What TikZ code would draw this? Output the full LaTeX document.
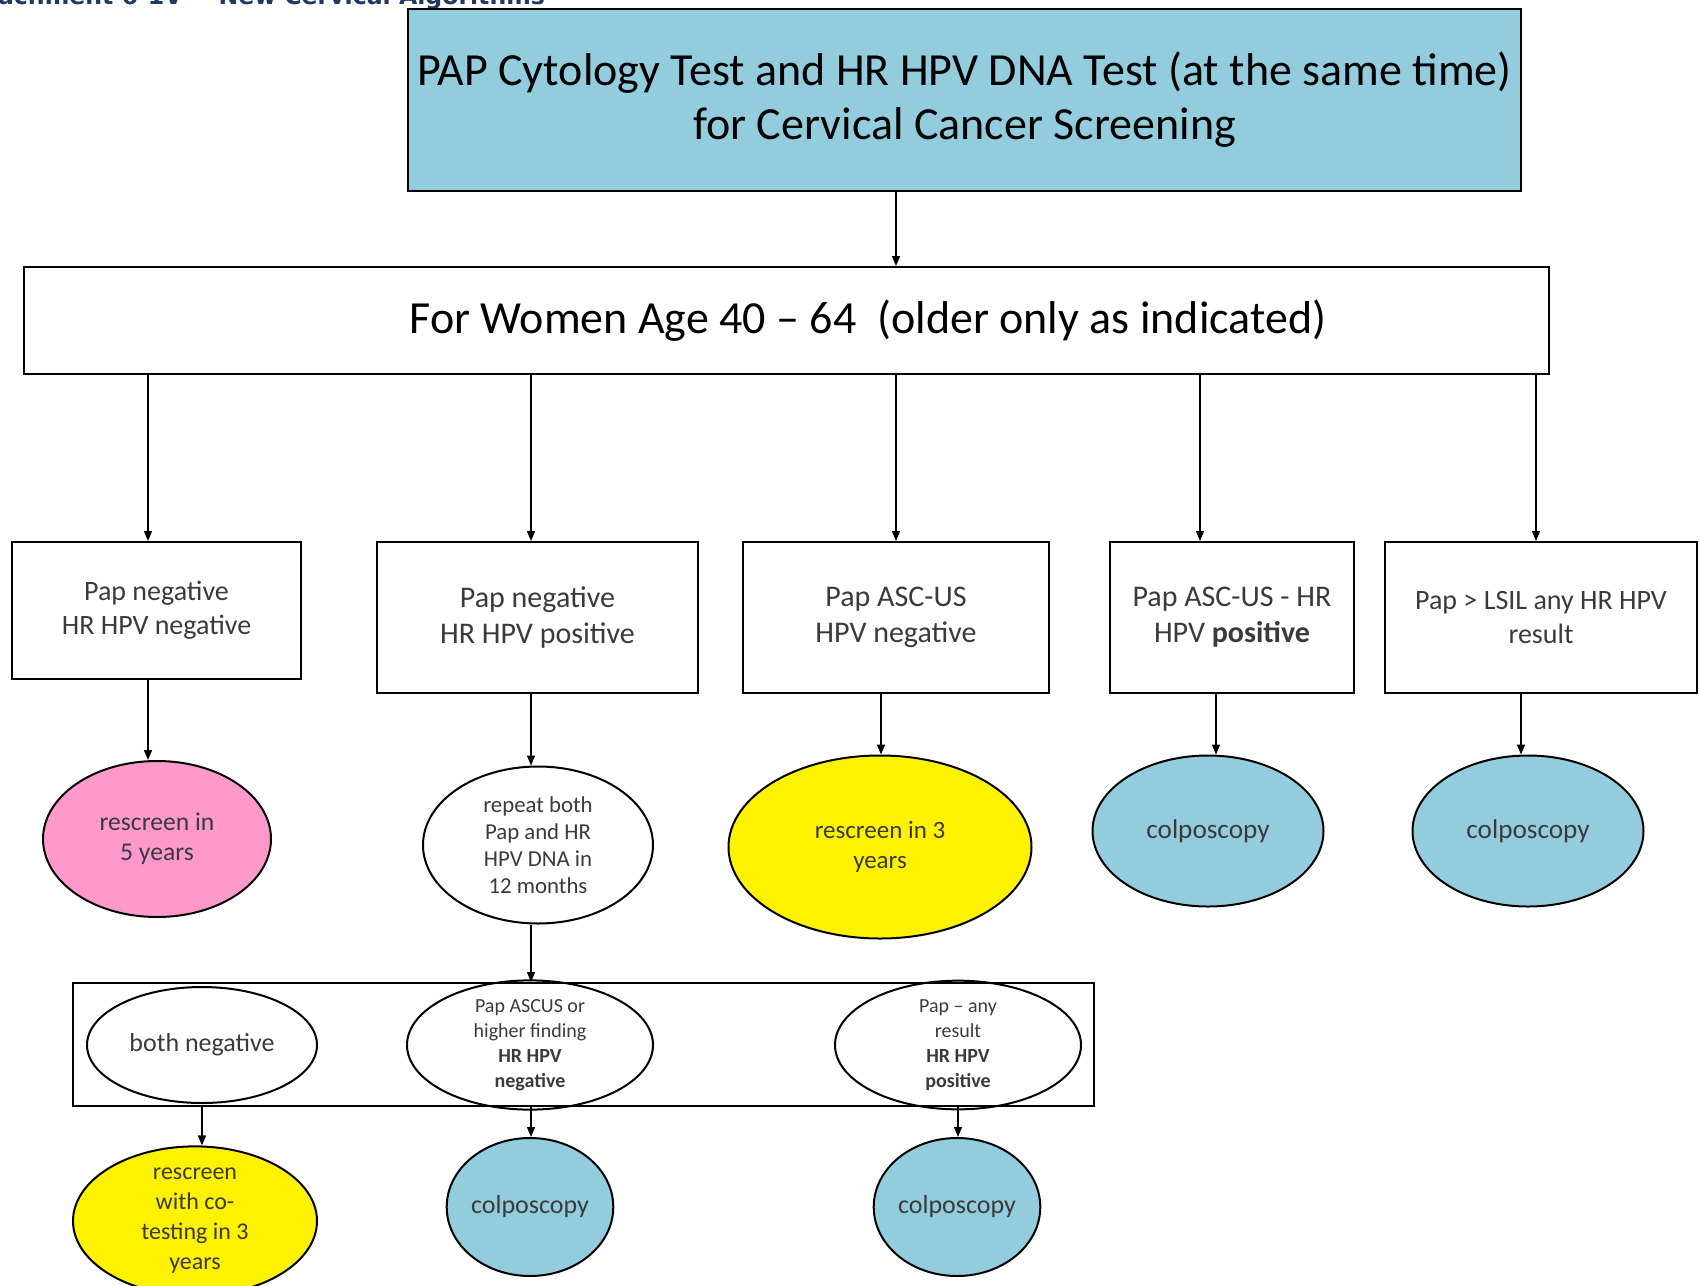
\documentclass[tikz,border=0pt]{standalone}
\usepackage{fontspec}
\setmainfont{Carlito}
\newfontfamily\headfont{DejaVu Sans}
\usetikzlibrary{shapes.geometric,arrows.meta}
\definecolor{screenblue}{HTML}{93CDDD}
\definecolor{rescreenpink}{HTML}{FF99CC}
\definecolor{headnavy}{HTML}{1F3864}
\definecolor{txtgray}{HTML}{3A3A3A}
\begin{document}
\begin{tikzpicture}[x=0.5pt,y=-0.5pt,
        box/.style={draw,line width=1pt,align=center,inner sep=0pt,text=txtgray},
        oval/.style={ellipse,draw,line width=1pt,align=center,inner sep=0pt,text=txtgray},
        arr/.style={-{Triangle[length=5pt,width=4pt]},line width=0.7pt}]
    \useasboundingbox (0,0) rectangle (1699,1286);
    \clip (0,0) rectangle (1699,1286);
        \node[anchor=base east,font=\headfont\bfseries\fontsize{11.8}{14}\selectfont,text=headnavy] (head) at (552,4) {Attachment 6-1V -- New Cervical Algorithms};
        \node[box,fill=screenblue,text=black,minimum width=556.5pt,minimum height=91pt,font=\fontsize{23}{27}\selectfont] (screen) at (964.5,100) {PAP Cytology Test and HR HPV DNA Test (at the same time)\\for Cervical Cancer Screening};
        \node[box,minimum width=762.5pt,minimum height=53.5pt] (women) at (786.5,320.5) {};
        \node[text=black,font=\fontsize{23}{27}\selectfont] (womentxt) at (868,321) {For Women Age 40 -- 64\ \ (older only as indicated)};
        \node[box,minimum width=144.5pt,minimum height=68.5pt,font=\fontsize{14}{17}\selectfont] (b1) at (156.5,610.5) {Pap negative\\HR HPV negative};
        \node[box,minimum width=160.5pt,minimum height=75.5pt,font=\fontsize{15}{18}\selectfont] (b2) at (537.5,617.5) {Pap negative\\HR HPV positive};
        \node[box,minimum width=153pt,minimum height=75.5pt,font=\fontsize{15}{18}\selectfont] (b3) at (896,617.5) {Pap ASC-US\\HPV negative};
        \node[box,minimum width=122pt,minimum height=75.5pt,font=\fontsize{15}{18}\selectfont] (b4) at (1232,617.5) {Pap ASC-US - HR\\HPV \textbf{positive}};
        \node[box,minimum width=156pt,minimum height=75.5pt,font=\fontsize{14}{17}\selectfont] (b5) at (1541,617.5) {Pap > LSIL any HR HPV\\result};
        \node[oval,fill=rescreenpink,minimum width=114pt,minimum height=78pt,font=\fontsize{12.8}{15}\selectfont] (e1) at (157,839) {rescreen in\\5 years};
        \node[oval,minimum width=115pt,minimum height=78.5pt,font=\fontsize{11.4}{13.5}\selectfont] (e2) at (538,845) {repeat both\\Pap and HR\\HPV DNA in\\12 months};
        \node[oval,fill=yellow,minimum width=151.5pt,minimum height=91.5pt,font=\fontsize{12.5}{15}\selectfont] (e3) at (880,847) {rescreen in 3\\years};
        \node[oval,fill=screenblue,minimum width=115.5pt,minimum height=75.5pt,font=\fontsize{13.6}{16}\selectfont] (e4) at (1208,831) {colposcopy};
        \node[oval,fill=screenblue,minimum width=115.5pt,minimum height=75.5pt,font=\fontsize{13.6}{16}\selectfont] (e5) at (1528,831) {colposcopy};
        \node[box,minimum width=510.5pt,minimum height=61.5pt] (results) at (583.5,1044.5) {};
        \node[oval,minimum width=115pt,minimum height=58pt,font=\fontsize{13}{15}\selectfont] (i1) at (202,1045) {both negative};
        \node[oval,minimum width=123pt,minimum height=60.5pt,font=\fontsize{10}{12.5}\selectfont] (i2) at (530,1045) {Pap ASCUS or\\higher finding\\\textbf{HR HPV}\\\textbf{negative}};
        \node[oval,minimum width=123pt,minimum height=60.5pt,font=\fontsize{10}{12.5}\selectfont] (i3) at (958,1045) {Pap -- any\\result\\\textbf{HR HPV}\\\textbf{positive}};
        \node[oval,fill=yellow,minimum width=122pt,minimum height=68pt,font=\fontsize{12}{15}\selectfont] (f1) at (195,1221) {rescreen\\with co-\\testing in 3\\years};
        \node[oval,fill=screenblue,minimum width=77pt,minimum height=69pt,font=\fontsize{13}{15}\selectfont] (f2) at (530,1207) {colposcopy};
        \node[oval,fill=screenblue,minimum width=77pt,minimum height=69pt,font=\fontsize{13}{15}\selectfont] (f3) at (957,1207) {colposcopy};
        \coordinate (c1) at (148,0);
        \coordinate (c2) at (531,0);
        \coordinate (c3) at (896,0);
        \coordinate (c4) at (1200,0);
        \coordinate (c5) at (1536,0);
        \coordinate (d3) at (881,0);
        \coordinate (d4) at (1216,0);
        \coordinate (d5) at (1521,0);
        \coordinate (g1) at (202,0);
        \coordinate (g3) at (958,0);
        \draw[arr] (screen.south -| c3) -- (women.north -| c3);
        \draw[arr] (women.south -| c1) -- (b1.north -| c1);
        \draw[arr] (women.south -| c2) -- (b2.north -| c2);
        \draw[arr] (women.south -| c3) -- (b3.north -| c3);
        \draw[arr] (women.south -| c4) -- (b4.north -| c4);
        \draw[arr] (women.south -| c5) -- (b5.north -| c5);
        \draw[arr] (b1.south -| c1) -- (e1.north -| c1);
        \draw[arr] (b2.south -| c2) -- (e2.north -| c2);
        \draw[arr] (b3.south -| d3) -- (e3.north -| d3);
        \draw[arr] (b4.south -| d4) -- (e4.north -| d4);
        \draw[arr] (b5.south -| d5) -- (e5.north -| d5);
        \draw[arr] (e2.south -| c2) -- (results.north -| c2);
        \draw[arr] (results.south -| g1) -- (f1.north -| g1);
        \draw[arr] (results.south -| c2) -- (f2.north -| c2);
        \draw[arr] (results.south -| g3) -- (f3.north -| g3);
    \end{tikzpicture}
\end{document}
